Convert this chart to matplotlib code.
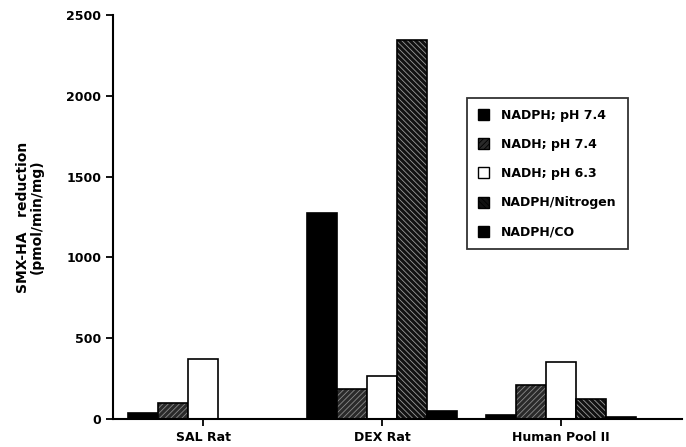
import numpy as np
import matplotlib
matplotlib.use('Agg')
import matplotlib.pyplot as plt

# --- data ---
groups = ['SAL Rat', 'DEX Rat', 'Human Pool II']
series = ['NADPH; pH 7.4', 'NADH; pH 7.4', 'NADH; pH 6.3', 'NADPH/Nitrogen', 'NADPH/CO']
nadph_74 = [35, 1275, 23]
nadh_74 = [97, 184, 208]
nadh_63 = [369, 266, 353]
nadph_n2 = [0, 2345, 122]
nadph_co = [0, 51, 12]
values = [nadph_74, nadh_74, nadh_63, nadph_n2, nadph_co]

# styles: facecolor, hatch, hatch colour
styles = [
    ('black', None, 'black'),
    ('#2a2a2a', '//////', '#8a8a8a'),
    ('white', None, 'black'),
    ('#111111', '\\\\\\\\\\\\', '#9a9a9a'),
    ('black', None, 'black'),
]

plt.rcParams['font.family'] = 'DejaVu Sans'
plt.rcParams['font.weight'] = 'bold'
plt.rcParams['hatch.linewidth'] = 0.6

fig = plt.figure(figsize=(6.86, 4.47), dpi=100)
ax = fig.add_axes([113/686, 28/447, 569/686, 404/447])

x = np.arange(len(groups))
w = 0.168
for i, (vals, (fc, hatch, hc)) in enumerate(zip(values, styles)):
    ax.bar(x + (i - 2) * w, vals, width=w, color=fc, hatch=hatch,
           edgecolor=hc, linewidth=0, label=series[i])
    # black outline drawn separately so the hatch colour can differ
    ax.bar(x + (i - 2) * w, vals, width=w, facecolor='none',
           edgecolor='black', linewidth=1.2)

ax.set_xlim(-0.503, 2.676)
ax.set_ylim(0, 2500)
ax.set_yticks([0, 500, 1000, 1500, 2000, 2500])
ax.set_xticks(x)
ax.set_xticklabels(groups)
ax.tick_params(axis='both', labelsize=9, width=1.3, length=5, direction='out')
for sp in ['top', 'right']:
    ax.spines[sp].set_visible(False)
for sp in ['left', 'bottom']:
    ax.spines[sp].set_linewidth(1.5)

ax.set_ylabel('SMX-HA   reduction\n(pmol/min/mg)', fontsize=10, fontweight='bold',
              labelpad=16, linespacing=1.0)

handles, labels = ax.get_legend_handles_labels()
leg = ax.legend(handles, labels, loc='upper left',
                bbox_to_anchor=(467/686, 1 - 98/447), bbox_transform=fig.transFigure,
                fontsize=9, frameon=True, fancybox=False, edgecolor='black',
                handlelength=0.9, handleheight=1.0, labelspacing=1.3,
                borderpad=0.85, handletextpad=1.0, borderaxespad=0)
leg.get_frame().set_linewidth(1.3)
for h in leg.legend_handles:
    h.set_edgecolor('black')
    h.set_linewidth(1.0)

fig.savefig('out.png', dpi=100)
